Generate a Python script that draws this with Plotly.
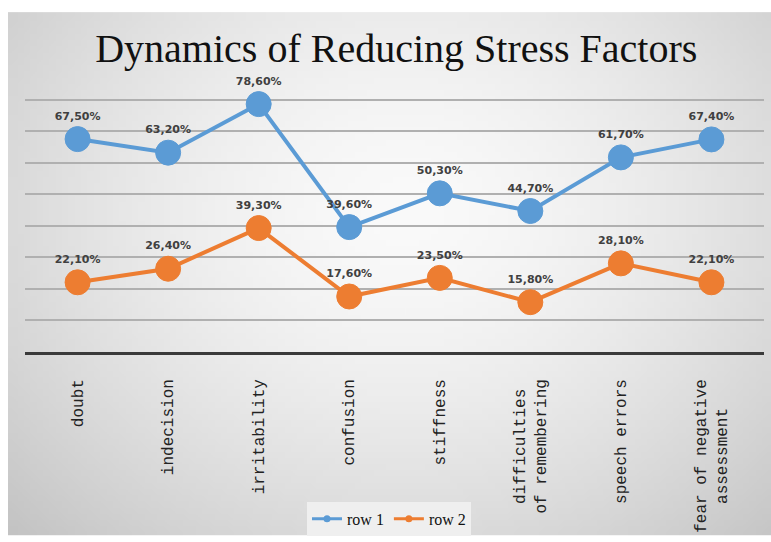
import base64
import struct
import zlib

import numpy as np
import plotly.graph_objects as go

# ---- data ----
categories = [
    "doubt",
    "indecision",
    "irritability",
    "confusion",
    "stiffness",
    "difficulties\u00a0<br>of remembering",
    "speech errors",
    "fear of negative<br>assessment\u00a0\u00a0\u00a0",
]
row1 = [67.5, 63.2, 78.6, 39.6, 50.3, 44.7, 61.7, 67.4]
row2 = [22.1, 26.4, 39.3, 17.6, 23.5, 15.8, 28.1, 22.1]
series_names = ["row 1", "row 2"]


def pct(v):
    return f"{v:.2f}%".replace(".", ",")


# ---- gradient background image (style only) ----
def gradient_png(w, h):
    yy, xx = np.mgrid[0:h, 0:w]
    nx = (xx / (w - 1) - 0.52) / 0.62
    ny = (yy / (h - 1) - 0.38) / 0.75
    r = np.sqrt(nx ** 2 + ny ** 2)
    v = 250 - 42 * np.clip(r, 0, 1.2) ** 1.6
    v = np.clip(v, 0, 255).astype(np.uint8)
    raw = b"".join(b"\x00" + bytes(np.repeat(row, 3)) for row in v)

    def chunk(tag, data):
        c = struct.pack(">I", len(data)) + tag + data
        return c + struct.pack(">I", zlib.crc32(tag + data) & 0xFFFFFFFF)

    png = b"\x89PNG\r\n\x1a\n"
    png += chunk(b"IHDR", struct.pack(">IIBBBBB", w, h, 8, 2, 0, 0, 0))
    png += chunk(b"IDAT", zlib.compress(raw, 9))
    png += chunk(b"IEND", b"")
    return "data:image/png;base64," + base64.b64encode(png).decode()


W, H = 771, 542
ML, MR, MT, MB = 25, 7, 88, 186
PW, PH = W - ML - MR, H - MT - MB

blue = "#5b9bd5"
orange = "#ed7d31"

fig = go.Figure()
for vals, name, col in [(row1, series_names[0], blue), (row2, series_names[1], orange)]:
    fig.add_trace(
        go.Scatter(
            x=categories,
            y=vals,
            mode="lines+markers+text",
            name=name,
            text=[pct(v) for v in vals],
            textposition="top center",
            textfont=dict(family="DejaVu Sans", size=11, color="#404040", weight="bold"),
            line=dict(color=col, width=4),
            marker=dict(size=25, color=col, line=dict(width=1, color=col)),
            cliponaxis=False,
            showlegend=False,
        )
    )
    # legend entry (small symbol)
    fig.add_trace(
        go.Scatter(
            x=[None],
            y=[None],
            mode="lines+markers",
            name=name,
            line=dict(color=col, width=3),
            marker=dict(size=7, color=col),
            showlegend=True,
        )
    )

fig.update_layout(
    width=W,
    height=H,
    margin=dict(l=ML, r=MR, t=MT, b=MB, pad=0),
    paper_bgcolor="white",
    plot_bgcolor="rgba(0,0,0,0)",
    title=dict(
        text="Dynamics of Reducing Stress Factors",
        font=dict(family="Liberation Serif", size=40, color="#111"),
        x=0.514,
        xanchor="center",
        y=0.912,
        yanchor="middle",
    ),
    legend=dict(
        orientation="h",
        x=(307 - ML) / PW,
        xanchor="left",
        y=(MT + PH - 508) / PH,
        yanchor="top",
        bgcolor="#efefef",
        font=dict(family="Liberation Serif", size=16, color="#111"),
        itemwidth=30,
        tracegroupgap=0,
    ),
    images=[
        dict(
            source=gradient_png(120, 84),
            xref="paper",
            yref="paper",
            x=(8 - ML) / PW,
            y=(MT + PH - 11) / PH,
            sizex=(W - 8) / PW,
            sizey=(H - 11) / PH,
            xanchor="left",
            yanchor="top",
            sizing="stretch",
            layer="below",
        )
    ],
    showlegend=True,
)

fig.update_xaxes(
    type="category",
    showgrid=False,
    showline=True,
    linecolor="#3a3a3a",
    linewidth=2.5,
    ticks="",
    tickangle=-90,
    ticklabelstandoff=18,
    tickfont=dict(family="Liberation Mono", size=16, color="#222"),
    automargin=False,
)
fig.update_yaxes(
    range=[0, 83.7],
    dtick=10,
    tick0=0,
    showticklabels=False,
    showgrid=True,
    gridcolor="#b0b0b0",
    gridwidth=2,
    zeroline=False,
    showline=False,
    automargin=False,
)

fig.write_html("out.html")
